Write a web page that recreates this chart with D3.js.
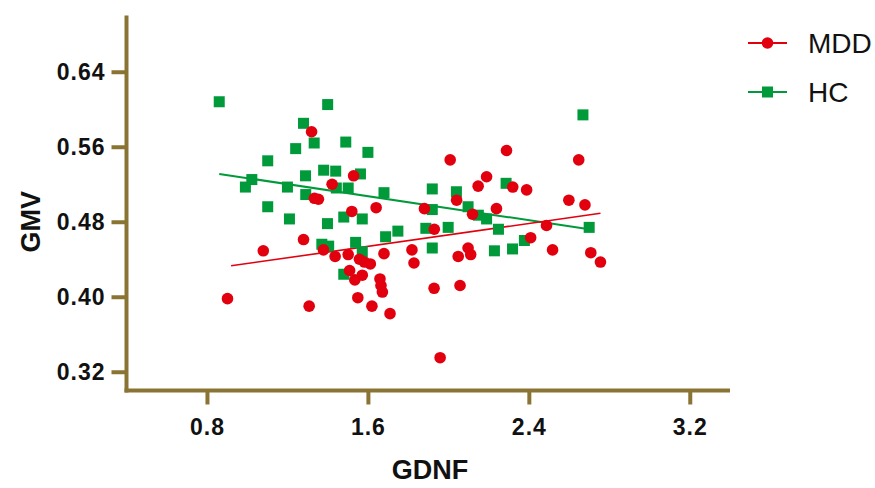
<!DOCTYPE html>
<html>
<head>
<meta charset="utf-8">
<script src="https://cdn.jsdelivr.net/npm/d3@7"></script>
<style>
  body { margin: 0; background: #fff; }
  svg { font-family: "Liberation Sans", Arial, sans-serif; }
  .tick text { font-weight: bold; font-size: 23px; letter-spacing: 1px; fill: #111; }
  .axis-title { font-weight: bold; font-size: 27px; fill: #111; }
  .legend-label { font-size: 28px; fill: #111; }
</style>
</head>
<body>
<svg id="chart"></svg>
<script>
// values
const xTicks = [0.8, 1.6, 2.4, 3.2];
const yTicks = [0.32, 0.40, 0.48, 0.56, 0.64];

const mddGdnf = [1.320, 1.529, 1.422, 1.334, 1.354, 1.520, 1.641, 2.009, 2.289, 2.648,
  2.190, 2.148, 2.320, 2.389, 2.599, 2.679, 2.041, 1.881, 2.239, 2.120,
  2.488, 1.930, 2.409, 1.819, 1.829, 2.049, 2.098, 2.111, 2.518, 2.708,
  2.756, 1.929, 2.058, 1.710, 1.959, 1.080, 1.280, 1.379, 1.437, 1.502,
  1.558, 1.583, 1.612, 1.680, 1.509, 1.535, 1.572, 1.660, 1.665, 1.672,
  0.902, 1.308, 1.550, 1.620];
const mddGmv = [0.576, 0.529, 0.520, 0.505, 0.504, 0.491, 0.495, 0.546, 0.556, 0.546,
  0.528, 0.518, 0.517, 0.514, 0.503, 0.498, 0.503, 0.494, 0.494, 0.488,
  0.476, 0.472, 0.463, 0.450, 0.436, 0.443, 0.452, 0.445, 0.450, 0.447,
  0.437, 0.409, 0.412, 0.382, 0.335, 0.449, 0.461, 0.450, 0.443, 0.445,
  0.440, 0.437, 0.435, 0.446, 0.428, 0.418, 0.423, 0.419, 0.412, 0.405,
  0.398, 0.390, 0.399, 0.390];

const hcGdnf = [0.861, 1.400, 1.280, 1.333, 1.490, 1.241, 1.600, 1.102, 1.380, 1.440,
  1.563, 1.023, 1.290, 0.991, 1.200, 1.443, 1.502, 1.291, 1.680, 1.102,
  1.210, 1.399, 1.480, 1.572, 1.749, 1.371, 1.405, 1.539, 1.572, 1.688,
  1.480, 2.669, 1.920, 2.040, 2.287, 1.920, 2.098, 2.149, 2.190, 1.999,
  2.249, 2.700, 1.888, 1.920, 2.229, 2.319, 2.378];
const hcGmv = [0.608, 0.605, 0.585, 0.564, 0.565, 0.558, 0.554, 0.545, 0.535, 0.534,
  0.531, 0.525, 0.529, 0.517, 0.517, 0.516, 0.516, 0.509, 0.511, 0.496,
  0.483, 0.478, 0.485, 0.483, 0.470, 0.456, 0.454, 0.458, 0.448, 0.464,
  0.424, 0.594, 0.515, 0.512, 0.521, 0.493, 0.496, 0.487, 0.483, 0.474,
  0.472, 0.474, 0.473, 0.452, 0.449, 0.451, 0.460];

// fitted lines, endpoints [GDNF, GMV]
const mddFit = [[0.92, 0.433], [2.756, 0.489]];
const hcFit = [[0.861, 0.531], [2.70, 0.472]];

const groups = ["MDD", "HC"];

const WIDTH = 875;
const HEIGHT = 488;
const AXIS_COLOR = "#8a7434";
const RED = "#e2000f";
const GREEN = "#009a3a";

const svg = d3.select("#chart")
  .attr("width", WIDTH)
  .attr("height", HEIGHT);

const x = d3.scaleLinear().domain([0.4, 3.4]).range([126.5, 730]);
const y = d3.scaleLinear().domain([0.30, 0.70]).range([390.5, 15.5]);

// axes
const xAxis = svg.append("g")
  .attr("transform", `translate(0,${y(0.30)})`)
  .call(d3.axisBottom(x).tickValues(xTicks).tickFormat(d3.format(".1f")).tickSize(14).tickPadding(14));

const yAxis = svg.append("g")
  .attr("transform", `translate(${x(0.4)},0)`)
  .call(d3.axisLeft(y).tickValues(yTicks).tickFormat(d3.format(".2f")).tickSize(15).tickPadding(6));

[xAxis, yAxis].forEach(ax => {
  ax.select(".domain").attr("stroke", AXIS_COLOR).attr("stroke-width", 4);
  ax.selectAll(".tick line").attr("stroke", AXIS_COLOR).attr("stroke-width", 4);
});
xAxis.select(".domain").attr("d", `M${x(0.4) - 2},0H${x(3.4)}`);
yAxis.select(".domain").attr("d", `M0,${y(0.70)}V${y(0.30) + 2}`);

svg.append("text")
  .attr("class", "axis-title")
  .attr("x", 430)
  .attr("y", 479)
  .attr("text-anchor", "middle")
  .text("GDNF");

svg.append("text")
  .attr("class", "axis-title")
  .attr("transform", `translate(40,${y(0.48)}) rotate(-90)`)
  .attr("text-anchor", "middle")
  .text("GMV");

// fit lines
const line = d3.line().x(d => x(d[0])).y(d => y(d[1]));

svg.append("path").datum(hcFit)
  .attr("d", line).attr("stroke", GREEN).attr("stroke-width", 2).attr("fill", "none");
svg.append("path").datum(mddFit)
  .attr("d", line).attr("stroke", RED).attr("stroke-width", 1.6).attr("fill", "none");

// points
const hcData = hcGdnf.map((v, i) => ({ gdnf: v, gmv: hcGmv[i] }));
const mddData = mddGdnf.map((v, i) => ({ gdnf: v, gmv: mddGmv[i] }));
const sq = 11;

svg.append("g").selectAll("rect")
  .data(hcData)
  .enter()
  .append("rect")
  .attr("x", d => x(d.gdnf) - sq / 2)
  .attr("y", d => y(d.gmv) - sq / 2)
  .attr("width", sq)
  .attr("height", sq)
  .attr("fill", GREEN);

svg.append("g").selectAll("circle")
  .data(mddData)
  .enter()
  .append("circle")
  .attr("cx", d => x(d.gdnf))
  .attr("cy", d => y(d.gmv))
  .attr("r", 5.8)
  .attr("fill", RED);

// legend
const legend = svg.append("g").attr("transform", "translate(748,43)");
groups.forEach((g, i) => {
  const row = legend.append("g").attr("transform", `translate(0,${i * 49})`);
  const col = g === "MDD" ? RED : GREEN;
  row.append("line").attr("x1", 0).attr("x2", 39).attr("stroke", col).attr("stroke-width", 2);
  if (g === "MDD") {
    row.append("circle").attr("cx", 19.5).attr("r", 5.8).attr("fill", col);
  } else {
    row.append("rect").attr("x", 14).attr("y", -5.5).attr("width", 11).attr("height", 11).attr("fill", col);
  }
  row.append("text")
    .attr("class", "legend-label")
    .attr("x", 60)
    .attr("y", 10)
    .text(g);
});
</script>
</body>
</html>
